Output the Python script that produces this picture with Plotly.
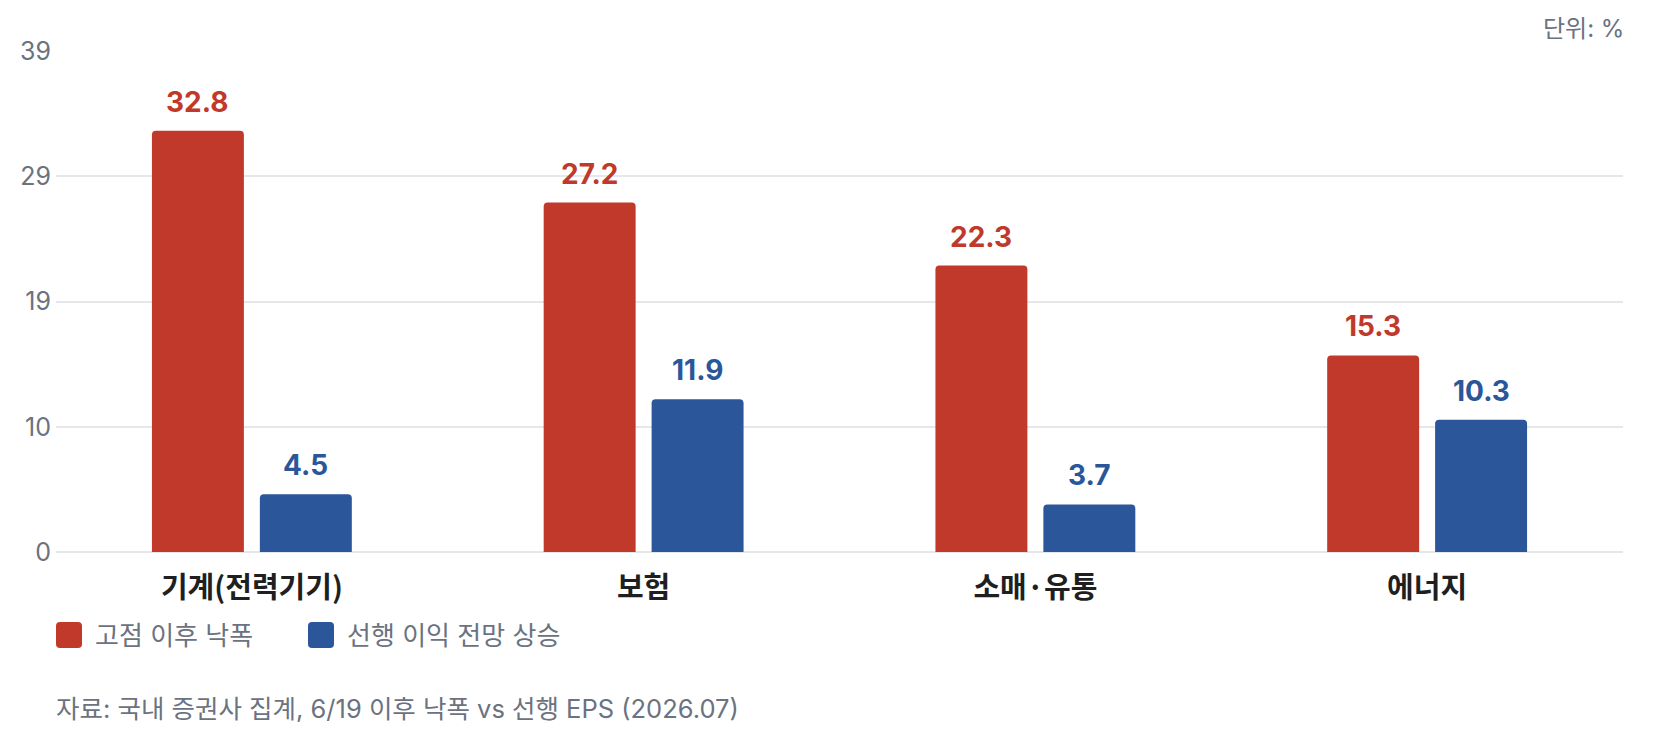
import re
import plotly.graph_objects as go

categories = ["기계(전력기기)", "보험", "소매·유통", "에너지"]
drop_from_peak = [32.8, 27.2, 22.3, 15.3]
eps_upgrade = [4.5, 11.9, 3.7, 10.3]
series_names = ["고점 이후 낙폭", "선행 이익 전망 상승"]
y_tickvals = [0, 9.75, 19.5, 29.25, 39]
y_ticktext = ["0", "10", "19", "29", "39"]

RED = "#C0392B"
BLUE = "#2B579A"
GRAY = "#6B7280"
FONT = "Inter, 'Noto Sans CJK KR', sans-serif"
KFONT = "'Noto Sans CJK KR', Inter, sans-serif"

# page body has an 8px margin; figure sized to fit the window
OFF = 8
W, H = 1672, 728
ML, MT = 48, 43
PW, PH = 1567, 501
MR, MB = W - ML - PW, H - MT - PH


def px_x(page_x):
    return (page_x - OFF - ML) / PW


def px_y(page_y):
    return (MT + PH - (page_y - OFF)) / PH


fig = go.Figure()
fig.add_trace(go.Bar(x=categories, y=drop_from_peak, name=series_names[0],
                     marker=dict(color=RED, line=dict(width=0)), showlegend=False,
                     hoverinfo="x+y"))
fig.add_trace(go.Bar(x=categories, y=eps_upgrade, name=series_names[1],
                     marker=dict(color=BLUE, line=dict(width=0)), showlegend=False,
                     hoverinfo="x+y"))

annotations = []
for vals, color, shift in [(drop_from_peak, RED, -54), (eps_upgrade, BLUE, 54)]:
    for c, v in zip(categories, vals):
        annotations.append(dict(x=c, y=v, xref="x", yref="y", text=f"{v:.1f}",
                                showarrow=False, xshift=shift, yshift=10,
                                yanchor="bottom", xanchor="center",
                                font=dict(family=FONT, size=28, color=color, weight=700)))

# unit label
annotations.append(dict(x=1, y=px_y(29), xref="paper", yref="paper", text="단위: %",
                        showarrow=False, xanchor="right", yanchor="middle", xshift=3,
                        font=dict(family=FONT, size=24, color=GRAY)))
# source
annotations.append(dict(x=px_x(54), y=px_y(708), xref="paper", yref="paper",
                        text="자료: 국내 증권사 집계, 6/19 이후 낙폭 vs 선행 EPS (2026.07)",
                        showarrow=False, xanchor="left", yanchor="middle",
                        font=dict(family=FONT, size=25.5, color=GRAY)))

# legend (manual, larger swatches)
shapes = []
legend_items = [(series_names[0], RED, 56, 93), (series_names[1], BLUE, 308, 345)]
for name, color, sx, tx in legend_items:
    x0, x1 = sx, sx + 26
    y0, y1 = 622, 648
    r = 4
    path = (f"M{x0 + r},{y0} L{x1 - r},{y0} Q{x1},{y0} {x1},{y0 + r} "
            f"L{x1},{y1 - r} Q{x1},{y1} {x1 - r},{y1} L{x0 + r},{y1} "
            f"Q{x0},{y1} {x0},{y1 - r} L{x0},{y0 + r} Q{x0},{y0} {x0 + r},{y0} Z")

    def conv(m):
        a, b = float(m.group(1)), float(m.group(2))
        return f"{px_x(a):.6f},{px_y(b):.6f}"
    ppath = re.sub(r"(-?\d+\.?\d*),(-?\d+\.?\d*)", conv, path)
    shapes.append(dict(type="path", xref="paper", yref="paper", path=ppath,
                       fillcolor=color, line=dict(width=0)))
    annotations.append(dict(x=px_x(tx), y=px_y(635), xref="paper", yref="paper",
                            text=name, showarrow=False, xanchor="left", yanchor="middle",
                            font=dict(family=FONT, size=26, color=GRAY)))

fig.update_layout(
    width=W, height=H,
    margin=dict(l=ML, r=MR, t=MT, b=MB, pad=0, autoexpand=False),
    paper_bgcolor="white", plot_bgcolor="white",
    barmode="group", bargap=0.449, bargroupgap=0.148, barcornerradius=4,
    annotations=annotations, shapes=shapes,
    showlegend=False,
    xaxis=dict(showgrid=False, showline=False, zeroline=False, ticks="",
               tickfont=dict(family=KFONT, size=29, color="#1F1F1F", weight=700),
               ticklabelstandoff=16, automargin=False, fixedrange=True),
    yaxis=dict(range=[0, 39], tickvals=y_tickvals, ticktext=y_ticktext,
               showgrid=True, gridcolor="#E5E7EB", gridwidth=1.5,
               zeroline=True, zerolinecolor="#E5E7EB", zerolinewidth=2,
               showline=False, ticks="",
               tickfont=dict(family=FONT, size=25, color=GRAY),
               ticklabelstandoff=4, automargin=False, fixedrange=True),
)

fig.write_html("out.html")
